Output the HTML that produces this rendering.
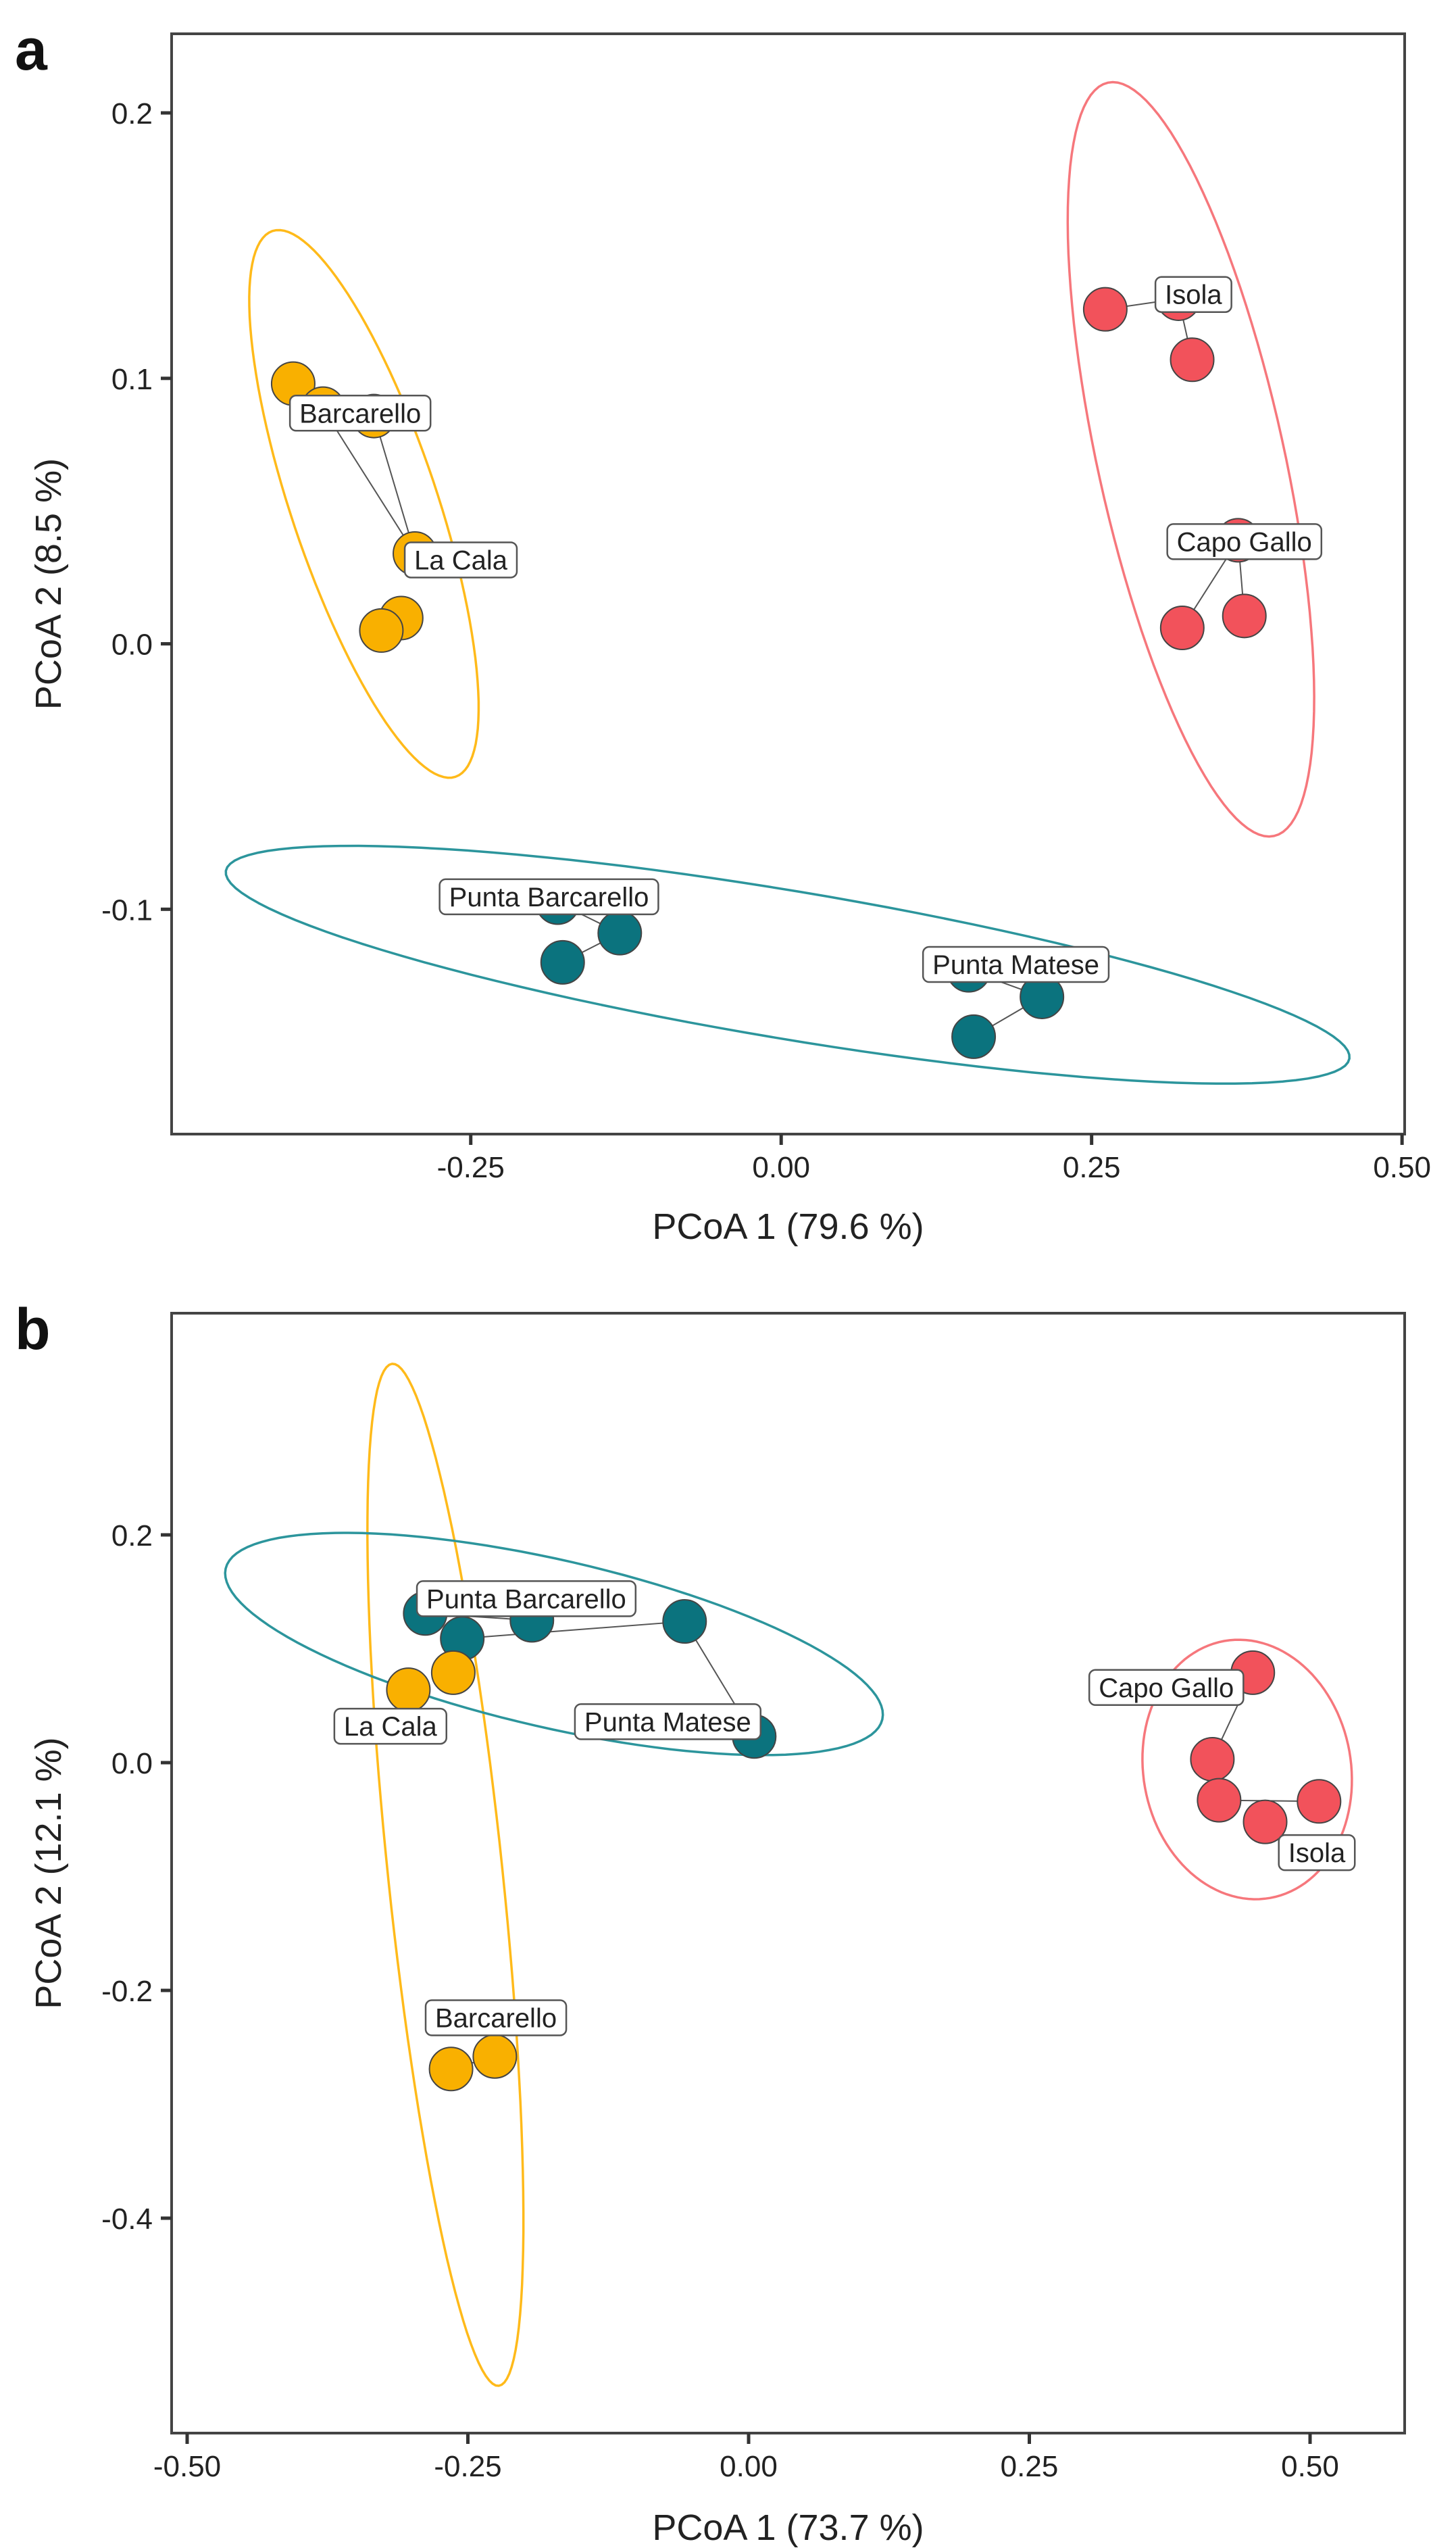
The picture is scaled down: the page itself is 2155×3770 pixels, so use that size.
<!DOCTYPE html>
<html><head><meta charset="utf-8"><style>
html,body{margin:0;padding:0;background:#fff}
svg{display:block}
text{font-family:"Liberation Sans",Arial,sans-serif}
</style></head><body>
<svg id="fig" width="2155" height="3770" viewBox="0 0 2155 3770" xmlns="http://www.w3.org/2000/svg"></svg>
<script>
// ---------- Panel a data ----------
const aSites = ["Barcarello","Barcarello","Barcarello","La Cala","La Cala","La Cala","Isola","Isola","Isola","Capo Gallo","Capo Gallo","Capo Gallo","Punta Barcarello","Punta Barcarello","Punta Barcarello","Punta Matese","Punta Matese","Punta Matese"];
const aGroups = ["y","y","y","y","y","y","r","r","r","r","r","r","t","t","t","t","t","t"];
const aX = [-0.393,-0.369,-0.328,-0.295,-0.306,-0.322, 0.261,0.320,0.331, 0.368,0.323,0.373, -0.180,-0.130,-0.176, 0.151,0.210,0.155];
const aY = [0.098,0.0886,0.0858,0.034,0.0097,0.005, 0.126,0.130,0.107, 0.039,0.006,0.0105, -0.0975,-0.109,-0.120, -0.123,-0.133,-0.148];
const aXTicks = [-0.25,0.00,0.25,0.50];
const aXTickLabels = ["-0.25","0.00","0.25","0.50"];
const aYTicks = [0.2,0.1,0.0,-0.1];
const aYTickLabels = ["0.2","0.1","0.0","-0.1"];
const aEllGroup = ["y","r","t"];
const aEllCx = [-0.336,0.330,0.0052];
const aEllCy = [0.0527,0.0695,-0.1209];
const aEllU = [[0.0737,-0.1028],[0.0669,-0.1419],[0.4524,-0.03537]];
const aEllV = [[0.0557,0.00873],[0.0733,0.00756],[-0.00985,-0.02748]];
const aLabels = ["Barcarello","La Cala","Isola","Capo Gallo","Punta Barcarello","Punta Matese"];
const aLabX = [-0.339,-0.258,0.332,0.373,-0.187,0.189];
const aLabY = [0.0869,0.0316,0.1316,0.0385,-0.0953,-0.1208];
const aLinks = [[1,3],[2,3],[6,7],[7,8],[9,10],[9,11],[12,13],[13,14],[15,16],[16,17]];

// ---------- Panel b data ----------
const bGroups = ["t","t","t","t","t","y","y","y","y","r","r","r","r","r"];
const bX = [-0.288,-0.255,-0.193,-0.057,0.005, -0.303,-0.263,-0.265,-0.226, 0.449,0.413,0.419,0.460,0.508];
const bY = [0.131,0.109,0.125,0.124,0.023, 0.064,0.079,-0.269,-0.258, 0.079,0.003,-0.033,-0.052,-0.034];
const bXTicks = [-0.50,-0.25,0.00,0.25,0.50];
const bXTickLabels = ["-0.50","-0.25","0.00","0.25","0.50"];
const bYTicks = [0.2,0.0,-0.2,-0.4];
const bYTickLabels = ["0.2","0.0","-0.2","-0.4"];
const bEllGroup = ["y","t","r"];
const bEllCx = [-0.270,-0.1733,0.444];
const bEllCy = [-0.0985,0.1042,-0.006];
const bEllU = [[-0.0475,0.4487],[0.2924,-0.0662],[-0.02046,0.1128]];
const bEllV = [[0.0507,0.00522],[-0.01667,-0.0717],[0.091,0.016]];
const bLabels = ["Punta Barcarello","Punta Matese","La Cala","Capo Gallo","Isola","Barcarello"];
const bLabX = [-0.198,-0.072,-0.319,0.372,0.506,-0.225];
const bLabY = [0.144,0.036,0.032,0.066,-0.079,-0.224];
const bLinks = [[0,2],[1,3],[3,4],[9,10],[11,13],[7,8]];

const NS="http://www.w3.org/2000/svg";
const svg=document.getElementById('fig');
const FILL={y:"#F9B000",r:"#F2525B",t:"#0B737E"};
const ELL={y:"#FFBA1A",r:"#F6777C",t:"#2C959C"};
function mk(tag,attrs,parent){const e=document.createElementNS(NS,tag);for(const k in attrs)e.setAttribute(k,attrs[k]);(parent||svg).appendChild(e);return e;}

function panel(P){
  const g=mk('g',{});
  
  
  const sx=v=>P.x0+(v-P.xmin)/(P.xmax-P.xmin)*(P.x1-P.x0);
  const sy=v=>P.y1-(v-P.ymin)/(P.ymax-P.ymin)*(P.y1-P.y0);
  const fr=mk('rect',{x:P.x0,y:P.y0,width:P.x1-P.x0,height:P.y1-P.y0,fill:"#fff",stroke:"#444","stroke-width":4},g);
  
  
  const pl=mk('text',{x:P.tagX,y:P.tagY,"font-size":86,"font-weight":"bold",fill:"#111"},g);pl.textContent=P.tag;
  
  
  P.xt.forEach((t,i)=>{const x=sx(t);
    const tk=mk('line',{x1:x,x2:x,y1:P.y1,y2:P.y1+16,stroke:"#333","stroke-width":5},g);
    
    
    const tl=mk('text',{x:x,y:P.y1+64,"font-size":44,"text-anchor":"middle",fill:"#222"},g);tl.textContent=P.xtl[i];
    
    });
  P.yt.forEach((t,i)=>{const y=sy(t);
    const tk=mk('line',{x1:P.x0-16,x2:P.x0,y1:y,y2:y,stroke:"#333","stroke-width":5},g);
    
    
    const tl=mk('text',{x:P.x0-28,y:y+16,"font-size":44,"text-anchor":"end",fill:"#222"},g);tl.textContent=P.ytl[i];
    
    });
  const xt=mk('text',{x:(P.x0+P.x1)/2,y:P.xTitleY,"font-size":54,"text-anchor":"middle",fill:"#222"},g);xt.textContent=P.xTitle;
  
  
  const yc=(P.y0+P.y1)/2+P.yTitleOff;
  const yt=mk('text',{x:0,y:0,"font-size":54,"text-anchor":"middle",fill:"#222",transform:`translate(90,${yc}) rotate(-90)`},g);yt.textContent=P.yTitle;
  
  
  P.eg.forEach((gr,i)=>{let d="";for(let k=0;k<=120;k++){const t=k/120*2*Math.PI;
      const vx=P.ecx[i]+P.eu[i][0]*Math.cos(t)+P.ev[i][0]*Math.sin(t);
      const vy=P.ecy[i]+P.eu[i][1]*Math.cos(t)+P.ev[i][1]*Math.sin(t);
      d+=(k?"L":"M")+sx(vx).toFixed(1)+","+sy(vy).toFixed(1);}
    const e=mk('path',{d:d+"Z",fill:"none",stroke:ELL[gr],"stroke-width":3.5},g);
    
    });
  P.links.forEach(l=>{const ln=mk('line',{x1:sx(P.px[l[0]]),y1:sy(P.py[l[0]]),x2:sx(P.px[l[1]]),y2:sy(P.py[l[1]]),stroke:"#555","stroke-width":2},g);
    
    });
  P.px.forEach((v,i)=>{const c=mk('circle',{cx:sx(v),cy:sy(P.py[i]),r:32,fill:FILL[P.pg[i]],stroke:"#444","stroke-width":2},g);
    
    });
  P.lab.forEach((s,i)=>{const cx=sx(P.lx[i]),cy=sy(P.ly[i]);
    const lg=mk('g',{},g);
    
    
    const t=mk('text',{x:cx,y:cy+14,"font-size":40,"text-anchor":"middle",fill:"#222"},lg);t.textContent=s;
    const w=t.getComputedTextLength()+28;
    const r=mk('rect',{x:cx-w/2,y:cy-26,width:w,height:52,rx:9,fill:"#fff",stroke:"#555","stroke-width":2.5});
    lg.insertBefore(r,t);});
}
panel({name:'panel-a',tag:'a',tagX:22,tagY:103,x0:254,x1:2079,y0:50,y1:1678,
  xmin:-0.4909,xmax:0.5021,ymin:-0.1847,ymax:0.2298,
  xt:aXTicks,xtl:aXTickLabels,yt:aYTicks,ytl:aYTickLabels,
  xTitle:"PCoA 1 (79.6 %)",xTitleY:1833,yTitle:"PCoA 2 (8.5 %)",yTitleOff:0,
  eg:aEllGroup,ecx:aEllCx,ecy:aEllCy,eu:aEllU,ev:aEllV,
  links:aLinks,px:aX,py:aY,pg:aGroups,lab:aLabels,lx:aLabX,ly:aLabY});
panel({name:'panel-b',tag:'b',tagX:22,tagY:1996,x0:254,x1:2079,y0:1943,y1:3600,
  xmin:(254-1108)/1662,xmax:(2079-1108)/1662,ymin:(2608-3600)/1685,ymax:(2608-1943)/1685,
  xt:bXTicks,xtl:bXTickLabels,yt:bYTicks,ytl:bYTickLabels,
  xTitle:"PCoA 1 (73.7 %)",xTitleY:3758,yTitle:"PCoA 2 (12.1 %)",yTitleOff:0,
  eg:bEllGroup,ecx:bEllCx,ecy:bEllCy,eu:bEllU,ev:bEllV,
  links:bLinks,px:bX,py:bY,pg:bGroups,lab:bLabels,lx:bLabX,ly:bLabY});
</script>
</body></html>
